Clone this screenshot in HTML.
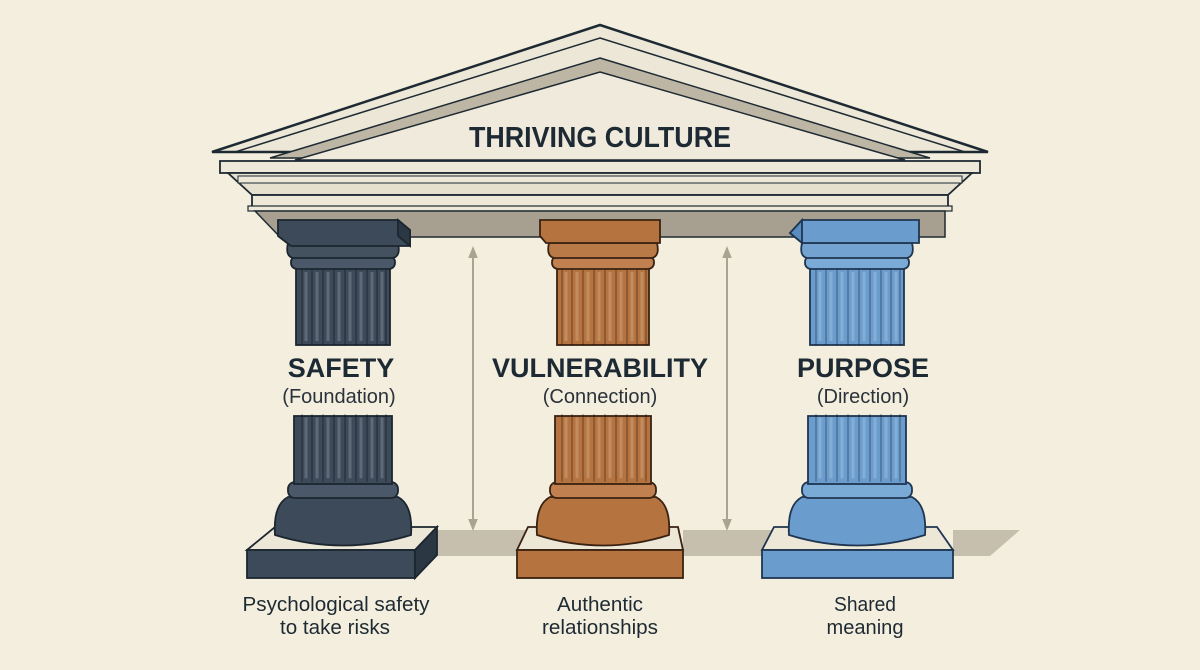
<!DOCTYPE html>
<html><head><meta charset="utf-8"><style>
html,body{margin:0;padding:0;background:#f3eedd;}
svg{display:block}
text{font-family:"Liberation Sans",sans-serif;}
</style></head><body>
<svg width="1200" height="670" viewBox="0 0 1200 670" xmlns="http://www.w3.org/2000/svg">
<defs>
<marker id="ah" viewBox="0 0 10 10" refX="5" refY="5" markerWidth="6" markerHeight="6" orient="auto-start-reverse"><path d="M0,1 L10,5 L0,9 z" fill="#aaa392"/></marker>
<g id="flutes" fill="none">
<g stroke="#fff" stroke-opacity="0.18" stroke-width="3">
<path d="M-37,4V73M-26,4V73M-15,4V73M-4,4V73M7,4V73M18,4V73M29,4V73M39,4V73"/>
</g>
<g stroke="#000" stroke-opacity="0.35" stroke-width="1.2">
<path d="M-41,0V77M-31,0V77M-20,0V77M-9,0V77M2,0V77M13,0V77M24,0V77M34,0V77M43,0V77"/>
</g>
</g>
</defs>
<rect width="1200" height="670" fill="#f3eedd"/>
<!-- ground shadows -->
<polygon points="437,530 560,530 520,556 437,556" fill="#b4ab98" opacity="0.7"/>
<polygon points="683,530 800,530 765,556 683,556" fill="#b4ab98" opacity="0.7"/>
<polygon points="953,530 1020,530 990,556 953,556" fill="#b4ab98" opacity="0.7"/>
<!-- pediment -->
<polygon points="600,25 988,152 212,152" fill="#ece7d6" stroke="#1e2a33" stroke-width="2.5"/>
<polygon points="600,38 965,152 235,152" fill="none" stroke="#1e2a33" stroke-width="1.5"/>
<polygon points="600,58 930,158 270,158" fill="#bdb6a4" stroke="#1e2a33" stroke-width="1.5"/>
<polygon points="600,72 905,160 295,160" fill="#efeadb" stroke="#1e2a33" stroke-width="1.5"/>
<text x="600" y="147" text-anchor="middle" font-size="29" font-weight="bold" fill="#1e2a33" textLength="262" lengthAdjust="spacingAndGlyphs">THRIVING CULTURE</text>
<!-- entablature -->
<rect x="220" y="161" width="760" height="12" fill="#ede8d8" stroke="#1e2a33" stroke-width="1.8"/>
<polygon points="228,173 972,173 948,195 252,195" fill="#e6e0cf" stroke="#1e2a33" stroke-width="1.8"/>
<rect x="238" y="176" width="724" height="7" fill="#ede8d8" stroke="#1e2a33" stroke-width="1"/>
<rect x="252" y="195" width="696" height="14" fill="#ede8d8" stroke="#1e2a33" stroke-width="1.8"/>
<rect x="248" y="206" width="704" height="5" fill="#ede8d8" stroke="#1e2a33" stroke-width="1.2"/>
<polygon points="255,211 945,211 945,237 280,237" fill="#a7a090" stroke="#1e2a33" stroke-width="1.5"/>
<!-- arrows -->
<line x1="473" y1="252" x2="473" y2="525" stroke="#aaa392" stroke-width="2" marker-start="url(#ah)" marker-end="url(#ah)"/>
<line x1="727" y1="252" x2="727" y2="525" stroke="#aaa392" stroke-width="2" marker-start="url(#ah)" marker-end="url(#ah)"/>

<g transform="translate(343,0)" stroke="#1c2630" stroke-width="1.8">
<polygon points="-96,550 -68,527 94,527 72,550" fill="#ece7d6"/>
<rect x="-96" y="550" width="168" height="28" fill="#3d4a5a"/>
<polygon points="72,550 94,527 94,555 72,578" fill="#2c3744"/>
<path d="M-68,535 Q-70,505 -55,497 L55,497 Q70,505 68,535 Q0,556 -68,535Z" fill="#3d4a5a"/>
<rect x="-55" y="482" width="110" height="16" rx="7" fill="#4a5869"/>
<rect x="-49" y="416" width="98" height="68" fill="#3d4a5a"/>
<g transform="translate(0,414)"><use href="#flutes" transform="scale(1,0.88)"/></g>
<rect x="-47" y="268" width="94" height="77" fill="#3d4a5a"/>
<use href="#flutes" transform="translate(0,268)"/>
<rect x="-52" y="256" width="104" height="13" rx="6" fill="#4a5869"/>
<path d="M-55,243 L55,243 Q58,256 50,258 L-50,258 Q-58,256 -55,243Z" fill="#44515f"/>
<polygon points="-65,220 55,220 67,230 67,246 -52,246 -65,236" fill="#3d4a5a"/>
<polygon points="55,220 67,230 67,246 55,236" fill="#2c3744"/>
</g>
<g transform="translate(603,0)" stroke="#3a2212" stroke-width="1.8">
<polygon points="-86,550 -75,527 75,527 80,550" fill="#ece7d6"/>
<rect x="-86" y="550" width="166" height="28" fill="#b5733f"/>
<path d="M-66,535 Q-68,505 -53,497 L53,497 Q68,505 66,535 Q0,556 -66,535Z" fill="#b5733f"/>
<rect x="-53" y="482" width="106" height="16" rx="7" fill="#c08050"/>
<rect x="-48" y="416" width="96" height="68" fill="#b5733f"/>
<g transform="translate(0,414)"><use href="#flutes" transform="scale(1,0.88)"/></g>
<rect x="-46" y="268" width="92" height="77" fill="#b5733f"/>
<use href="#flutes" transform="translate(0,268)"/>
<rect x="-51" y="256" width="102" height="13" rx="6" fill="#c08050"/>
<path d="M-54,243 L54,243 Q57,256 49,258 L-49,258 Q-57,256 -54,243Z" fill="#ba7a47"/>
<polygon points="-63,220 57,220 57,243 -57,243 -63,236" fill="#b5733f"/>
</g>
<g transform="translate(857,0)" stroke="#1f3550" stroke-width="1.8">
<polygon points="-95,550 -83,527 80,527 96,550" fill="#ece7d6"/>
<rect x="-95" y="550" width="191" height="28" fill="#6a9dcd"/>
<path d="M-68,535 Q-70,505 -55,497 L55,497 Q70,505 68,535 Q0,556 -68,535Z" fill="#6a9dcd"/>
<rect x="-55" y="482" width="110" height="16" rx="7" fill="#7aaad6"/>
<rect x="-49" y="416" width="98" height="68" fill="#6a9dcd"/>
<g transform="translate(0,414)"><use href="#flutes" transform="scale(1,0.88)"/></g>
<rect x="-47" y="268" width="94" height="77" fill="#6a9dcd"/>
<use href="#flutes" transform="translate(0,268)"/>
<rect x="-52" y="256" width="104" height="13" rx="6" fill="#7aaad6"/>
<path d="M-55,243 L55,243 Q58,256 50,258 L-50,258 Q-58,256 -55,243Z" fill="#72a3d1"/>
<polygon points="-55,220 62,220 62,243 -55,243 -67,233" fill="#6a9dcd"/>
<polygon points="-67,233 -55,220 -55,243" fill="#5a8dbd"/>
</g>

<g fill="#1e2a33" text-anchor="middle">
<text x="341" y="377" font-size="27" font-weight="bold">SAFETY</text>
<text x="339" y="403" font-size="20" fill="#2a323a">(Foundation)</text>
<text x="600" y="377" font-size="27" font-weight="bold">VULNERABILITY</text>
<text x="600" y="403" font-size="20" fill="#2a323a">(Connection)</text>
<text x="863" y="377" font-size="27" font-weight="bold">PURPOSE</text>
<text x="863" y="403" font-size="20" fill="#2a323a">(Direction)</text>
</g>
<g fill="#1e2a33" text-anchor="middle" font-size="20">
<text x="336" y="611" textLength="187" lengthAdjust="spacingAndGlyphs">Psychological safety</text>
<text x="335" y="634" textLength="110" lengthAdjust="spacingAndGlyphs">to take risks</text>
<text x="600" y="611" textLength="86" lengthAdjust="spacingAndGlyphs">Authentic</text>
<text x="600" y="634" textLength="116" lengthAdjust="spacingAndGlyphs">relationships</text>
<text x="865" y="611" textLength="62" lengthAdjust="spacingAndGlyphs">Shared</text>
<text x="865" y="634" textLength="77" lengthAdjust="spacingAndGlyphs">meaning</text>
</g>
</svg>
</body></html>
